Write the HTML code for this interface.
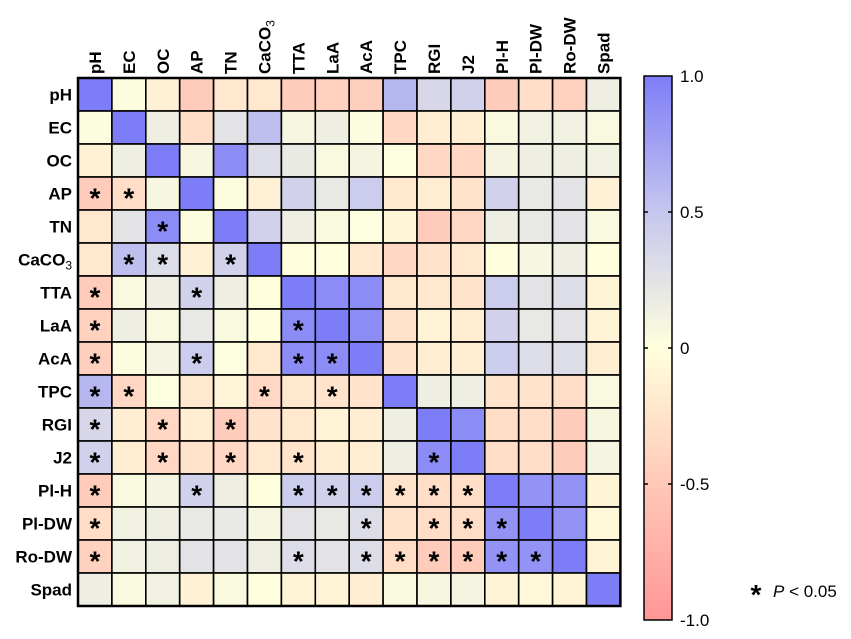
<!DOCTYPE html>
<html><head><meta charset="utf-8"><style>
body{margin:0;background:#fff;width:851px;height:634px;overflow:hidden;font-family:"Liberation Sans",Arial,sans-serif}
</style></head><body>
<svg id="chart" width="851" height="634" xmlns="http://www.w3.org/2000/svg">
<defs><linearGradient id="cb" x1="0" y1="0" x2="0" y2="1">
<stop offset="0" stop-color="rgb(125,125,248)"/><stop offset="0.25" stop-color="rgb(198,198,238)"/>
<stop offset="0.5" stop-color="rgb(255,255,222)"/><stop offset="0.75" stop-color="rgb(255,200,185)"/>
<stop offset="1" stop-color="rgb(255,150,150)"/></linearGradient></defs>
<g id="cells"></g><g id="labels"></g>
<g>
<rect x="644" y="76" width="28" height="544" fill="url(#cb)" stroke="#000" stroke-width="1.5"/>
</g>
<g id="cbticks"></g>
<g>
<text x="756" y="604" font-size="28" font-weight="bold" text-anchor="middle">*</text>
<text x="773" y="597" font-size="17"><tspan font-style="italic">P</tspan> &lt; 0.05</text>
</g>
</svg>
<script>
const vars=["pH","EC","OC","AP","TN","CaCO3","TTA","LaA","AcA","TPC","RGI","J2","Pl-H","Pl-DW","Ro-DW","Spad"];
const corr=[
[1,0.03,-0.12,-0.45,-0.2,-0.2,-0.45,-0.4,-0.42,0.6,0.35,0.4,-0.45,-0.3,-0.4,0.15],
[0.03,1,0.15,-0.3,0.25,0.55,0.08,0.15,0.03,-0.35,-0.15,-0.15,0.05,0.12,0.12,0.05],
[-0.12,0.15,1,0.08,0.9,0.3,0.18,0.05,0.1,0.02,-0.35,-0.35,0.1,0.15,0.15,0.12],
[-0.45,-0.3,0.08,1,0.03,-0.12,0.4,0.2,0.45,-0.2,-0.15,-0.25,0.4,0.2,0.25,-0.12],
[-0.2,0.25,0.9,0.03,1,0.4,0.15,0.05,0.02,-0.08,-0.45,-0.35,0.15,0.2,0.25,0.05],
[-0.2,0.55,0.3,-0.12,0.4,1,0.0,0.0,-0.2,-0.35,-0.25,-0.2,0.0,0.08,0.15,0.0],
[-0.45,0.05,0.15,0.4,0.15,0.0,1,0.9,0.9,-0.2,-0.2,-0.25,0.45,0.25,0.3,-0.1],
[-0.4,0.15,0.05,0.2,0.05,0.0,0.9,1,0.9,-0.25,-0.1,-0.15,0.4,0.2,0.25,-0.1],
[-0.42,0.03,0.1,0.45,0.02,-0.2,0.9,0.9,1,-0.25,-0.15,-0.15,0.45,0.3,0.3,-0.15],
[0.6,-0.35,0.02,-0.2,-0.08,-0.35,-0.2,-0.25,-0.25,1,0.15,0.15,-0.25,-0.25,-0.3,0.05],
[0.35,-0.15,-0.35,-0.15,-0.45,-0.25,-0.2,-0.1,-0.15,0.15,1,0.9,-0.3,-0.3,-0.45,0.07],
[0.4,-0.15,-0.35,-0.25,-0.35,-0.2,-0.25,-0.15,-0.15,0.15,0.9,1,-0.3,-0.3,-0.45,0.1],
[-0.45,0.05,0.1,0.4,0.15,0.0,0.45,0.4,0.45,-0.25,-0.3,-0.3,1,0.85,0.85,-0.1],
[-0.3,0.12,0.15,0.2,0.2,0.08,0.25,0.2,0.3,-0.25,-0.3,-0.3,0.85,1,0.85,-0.05],
[-0.4,0.12,0.15,0.25,0.25,0.15,0.3,0.25,0.3,-0.3,-0.45,-0.45,0.85,0.85,1,-0.1],
[0.15,0.05,0.12,-0.12,0.05,0.0,-0.1,-0.1,-0.15,0.05,0.07,0.1,-0.1,-0.05,-0.1,1]];
const sigRows=[3,3,4,5,5,5,6,6,7,7,8,8,8,8,9,9,9,9,10,10,10,11,11,11,11,11,12,12,12,12,12,12,12,12,13,13,13,13,13,14,14,14,14,14,14,14,14];
const sigCols=[0,1,2,1,2,4,0,3,0,6,0,3,6,7,0,1,5,7,0,2,4,0,2,4,6,10,0,3,6,7,8,9,10,11,0,8,10,11,12,0,6,8,9,10,11,12,13];
const cbTicks=[1.0,0.5,0,-0.5,-1.0];
const cbTickLabels=["1.0","0.5","0","-0.5","-1.0"];
const NS="http://www.w3.org/2000/svg";
const X0=78,Y0=78,CW=33.9,CH=33.0;
const xS=i=>X0+i*CW, yS=i=>Y0+i*CH;
const cbY=v=>76+(1-v)/2*544;
const stops=[[-1,[255,150,150]],[-0.5,[255,198,183]],[0,[255,255,222]],[0.5,[198,198,238]],[1,[125,125,248]]];
function color(v){for(let k=0;k<stops.length-1;k++){const[a,ca]=stops[k],[b,cb]=stops[k+1];if(v<=b){const t=(v-a)/(b-a);return`rgb(${ca.map((c,j)=>Math.round(c+(cb[j]-c)*t)).join(",")})`;}}return"rgb(125,125,248)";}
function mk(t,a,p){const e=document.createElementNS(NS,t);for(const k in a)e.setAttribute(k,a[k]);p.appendChild(e);return e;}
const cells=document.getElementById("cells"),labels=document.getElementById("labels"),cbt=document.getElementById("cbticks");
corr.forEach((row,r)=>row.forEach((v,c)=>{
 const el=mk("rect",{x:xS(c),y:yS(r),width:CW,height:CH,fill:color(v),stroke:"#000","stroke-width":1.6},cells);
 
 
}));
const border=mk("rect",{x:X0,y:Y0,width:16*CW,height:16*CH,fill:"none",stroke:"#000","stroke-width":2.5},cells);


sigRows.forEach((r,i)=>{const c=sigCols[i];
 const s=mk("text",{x:xS(c)+CW/2,y:yS(r)+CH/2+14,"font-size":28,"font-weight":"bold","text-anchor":"middle"},cells);
 s.textContent="*";
 
 
});
function lbl(el,name){if(name==="CaCO3"){el.appendChild(document.createTextNode("CaCO"));const ts=document.createElementNS(NS,"tspan");ts.setAttribute("font-size","12");ts.setAttribute("font-weight","normal");ts.setAttribute("dy","4");ts.textContent="3";el.appendChild(ts);}else el.textContent=name;}
vars.forEach((n,i)=>{
 const t=mk("text",{x:72,y:yS(i)+CH/2+6,"font-size":17,"font-weight":"bold","text-anchor":"end"},labels);
 lbl(t,n);
 
 
 const cx=xS(i)+CW/2+6;
 const u=mk("text",{x:cx,y:74,"font-size":17,"font-weight":"bold",transform:`rotate(-90 ${cx} 74)`},labels);
 lbl(u,n);
 
 
});
cbTicks.forEach((v,i)=>{const y=cbY(v);
 if(i>0&&i<cbTicks.length-1){mk("line",{x1:644,x2:648,y1:y,y2:y,stroke:"#000","stroke-width":1.5},cbt);mk("line",{x1:668,x2:672,y1:y,y2:y,stroke:"#000","stroke-width":1.5},cbt);}
 const t=mk("text",{x:680,y:y+6,"font-size":17},cbt);t.textContent=cbTickLabels[i];
 
 
});
</script>
</body></html>
